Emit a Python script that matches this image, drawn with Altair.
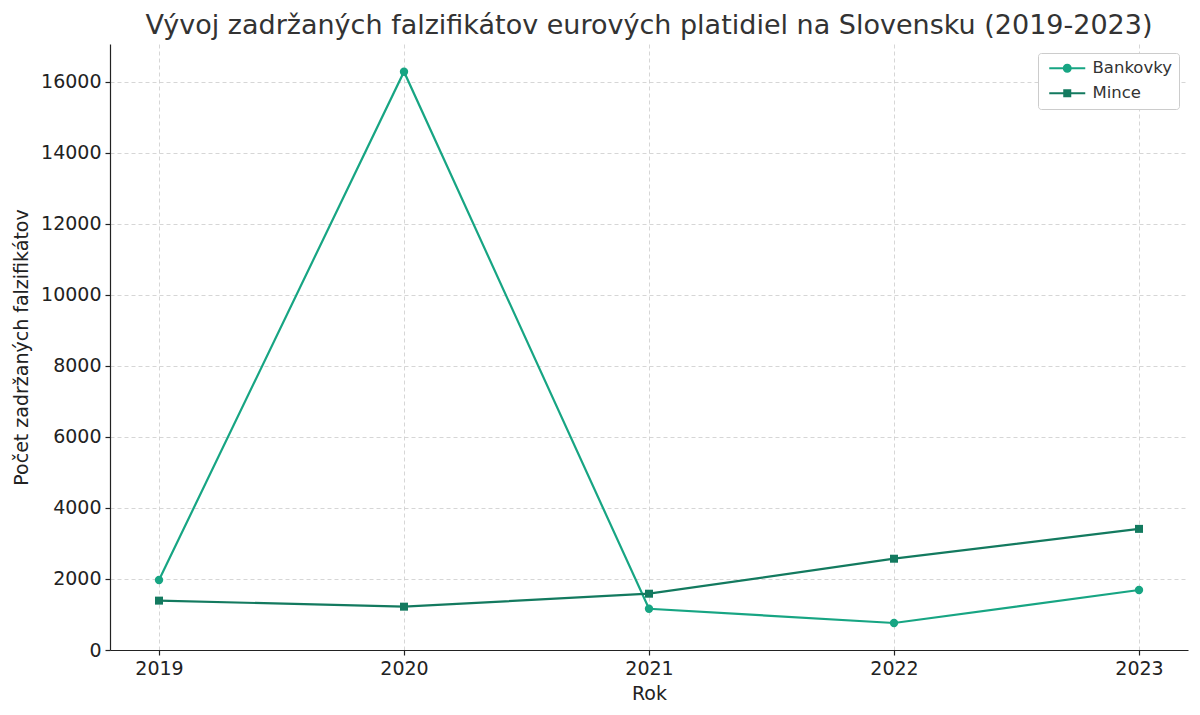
import altair as alt
import pandas as pd

years = [2019, 2020, 2021, 2022, 2023]
bankovky = [1970, 16280, 1160, 760, 1690]
mince = [1390, 1220, 1585, 2570, 3410]
series_names = ["Bankovky", "Mince"]
colors = ["#17a583", "#137a5f"]

rows = []
for y, b, m in zip(years, bankovky, mince):
    rows.append({"Rok": y, "Séria": "Bankovky", "Počet": b})
    rows.append({"Rok": y, "Séria": "Mince", "Počet": m})
df = pd.DataFrame(rows)

FONT = "DejaVu Sans"

line_rect = "M-3.6,-0.2 L3.6,-0.2 L3.6,0.2 L-3.6,0.2 Z"
circle_path = line_rect + " M0.9,0 A0.9,0.9 0 1,1 -0.9,0 A0.9,0.9 0 1,1 0.9,0 Z"
square_path = line_rect + " M-0.8,-0.8 L0.8,-0.8 L0.8,0.8 L-0.8,0.8 Z"

x_enc = alt.X(
    "Rok:Q",
    title="Rok",
    scale=alt.Scale(domain=[2018.8, 2023.2], nice=False, zero=False),
    axis=alt.Axis(values=years, format="d"),
)
y_enc = alt.Y(
    "Počet:Q",
    title="Počet zadržaných falzifikátov",
    scale=alt.Scale(domain=[0, 17060], nice=False),
    axis=alt.Axis(values=list(range(0, 17000, 2000)), format="d"),
)
color_scale = alt.Scale(domain=series_names, range=colors)

layers = []
for name, col, shp, sz in zip(series_names, colors, ["circle", "square"], [70, 64]):
    base = alt.Chart(df).transform_filter(alt.datum["Séria"] == name)
    layers.append(base.mark_line(strokeWidth=2.2, color=col).encode(x=x_enc, y=y_enc))
    layers.append(
        base.mark_point(filled=True, size=sz, opacity=1, shape=shp, color=col).encode(x=x_enc, y=y_enc)
    )

legend_props = dict(
    title=None,
    orient="none",
    legendX=928,
    legendY=9,
    symbolSize=100,
    symbolOffset=14,
    symbolOpacity=1,
    symbolStrokeWidth=0,
    labelOffset=17,
    labelFontSize=16.5,
    labelFont=FONT,
    labelColor="#333333",
    rowPadding=8,
    padding=7,
    strokeColor="#cccccc",
    fillColor="#ffffff",
    cornerRadius=3,
)

legend_layer = alt.Chart(df).mark_point(filled=True, opacity=0, size=100).encode(
    x=x_enc,
    y=y_enc,
    color=alt.Color("Séria:N", scale=color_scale, legend=alt.Legend(**legend_props)),
    shape=alt.Shape(
        "Séria:N",
        scale=alt.Scale(domain=series_names, range=[circle_path, square_path]),
        legend=alt.Legend(**legend_props),
    ),
)
layers.append(legend_layer)

chart = (
    alt.layer(*layers)
    .properties(
        width=1078,
        height=606,
        autosize=alt.AutoSizeParams(type="none"),
        padding={"left": 102, "top": 36, "right": 4, "bottom": 62},
        title=alt.Title(
            "Vývoj zadržaných falzifikátov eurových platidiel na Slovensku (2019-2023)",
            font=FONT,
            fontSize=27,
            fontWeight="normal",
            color="#333333",
            anchor="middle",
            offset=4,
        ),
    )
    .configure_view(stroke=None)
    .configure_axis(
        labelFont=FONT,
        labelFontSize=19,
        labelColor="#222222",
        titleFont=FONT,
        titleFontSize=19,
        titleFontWeight="normal",
        titleColor="#222222",
        domainColor="#222222",
        domainWidth=1.2,
        tickColor="#222222",
        tickSize=5,
        tickWidth=1.2,
        gridColor="#cccccc",
        gridDash=[4, 3],
        gridWidth=0.8,
    )
    .configure_axisY(titlePadding=9, labelPadding=4)
    .configure_axisX(titlePadding=6, labelPadding=4)
)

chart.save("out.html", embed_options={"renderer": "svg", "actions": False})
